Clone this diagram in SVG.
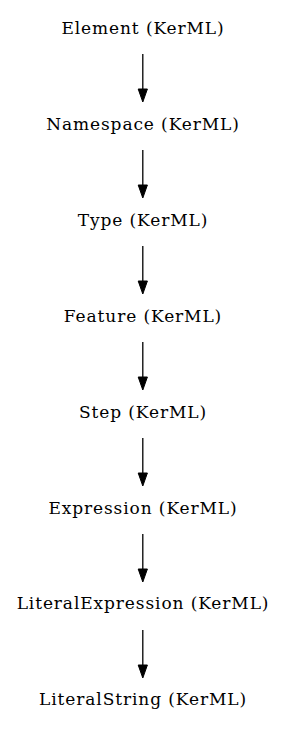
<svg xmlns="http://www.w3.org/2000/svg" width="285" height="731" viewBox="0 0 285 731">
<style>
text{font-family:"DejaVu Serif",serif;font-size:17px;letter-spacing:0.9px;fill:#000;text-anchor:middle}
.e line{stroke:#000;stroke-width:1.3}
.e path{fill:#000;stroke:#000;stroke-width:1}
</style>
<rect width="285" height="731" fill="#fff"/>
<g class="e" id="edges">
<line x1="142.8" y1="54" x2="142.8" y2="90"/><path d="M138.2,89L142.8,102L147.4,89Z"/>
<line x1="142.8" y1="150" x2="142.8" y2="186"/><path d="M138.2,185L142.8,198L147.4,185Z"/>
<line x1="142.8" y1="246" x2="142.8" y2="282"/><path d="M138.2,281L142.8,294L147.4,281Z"/>
<line x1="142.8" y1="342" x2="142.8" y2="378"/><path d="M138.2,377L142.8,390L147.4,377Z"/>
<line x1="142.8" y1="438" x2="142.8" y2="474"/><path d="M138.2,473L142.8,486L147.4,473Z"/>
<line x1="142.8" y1="534" x2="142.8" y2="570"/><path d="M138.2,569L142.8,582L147.4,569Z"/>
<line x1="142.8" y1="630" x2="142.8" y2="666"/><path d="M138.2,665L142.8,678L147.4,665Z"/>
</g>
<g id="n1"><text x="143" y="34">Element (KerML)</text></g>
<g id="n2"><text x="143" y="130">Namespace (KerML)</text></g>
<g id="n3"><text x="143" y="226">Type (KerML)</text></g>
<g id="n4"><text x="143" y="322">Feature (KerML)</text></g>
<g id="n5"><text x="143" y="418">Step (KerML)</text></g>
<g id="n6"><text x="143" y="514">Expression (KerML)</text></g>
<g id="n7"><text x="143" y="609">LiteralExpression (KerML)</text></g>
<g id="n8"><text x="143" y="705">LiteralString (KerML)</text></g>
</svg>
